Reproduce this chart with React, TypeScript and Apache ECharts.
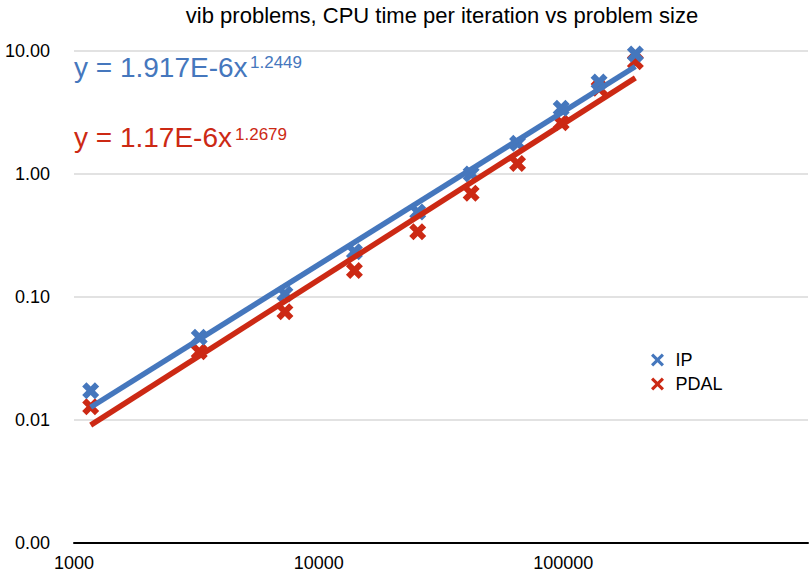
import React, { useEffect, useRef } from "react";
import * as echarts from "echarts";

// ---- data ----
const problemSizes = [1170, 3250, 7280, 14000, 25400, 42000, 65000, 98000, 140000, 197000];
const ipTimes = [0.0173, 0.047, 0.106, 0.233, 0.49, 1.0, 1.78, 3.42, 5.6, 9.46];
const pdalTimes = [0.0128, 0.0359, 0.0759, 0.164, 0.34, 0.697, 1.22, 2.61, 4.98, 8.19];
// power-law trend line end points (from the fitted equations shown)
const ipTrendX = [1170, 197000];
const ipTrendY = [0.0127, 7.48];
const pdalTrendX = [1170, 197000];
const pdalTrendY = [0.00908, 6.04];

const seriesNames = ["IP", "PDAL"];
const titleText = "vib problems, CPU time per iteration vs problem size";
const ipEquation = "y = 1.917E-6x";
const ipExponent = "1.2449";
const pdalEquation = "y = 1.17E-6x";
const pdalExponent = "1.2679";

const BLUE = "#4577BD";
const RED = "#CC2914";
const FONT = "'Liberation Sans', Arial, Helvetica, sans-serif";

const X_SYMBOL = "path://M0,1.5L1.5,0L3,1.5L4.5,0L6,1.5L4.5,3L6,4.5L4.5,6L3,4.5L1.5,6L0,4.5L1.5,3Z";
const X_LEGEND = "path://M0,1L1,0L3,2L5,0L6,1L4,3L6,5L5,6L3,4L1,6L0,5L2,3Z";

const pairs = (xs: number[], ys: number[]) => xs.map((x, i) => [x, ys[i]]);

export default function App() {
  const ref = useRef<HTMLDivElement>(null);

  useEffect(() => {
    if (!ref.current) return;
    const chart = echarts.init(ref.current, undefined, { renderer: "svg" });
    chart.setOption({
      animation: false,
      backgroundColor: "#ffffff",
      grid: { left: 74, right: 1, top: 51, bottom: 33, containLabel: false },
      legend: {
        orient: "vertical",
        left: 646,
        top: 346,
        itemWidth: 14,
        itemHeight: 13,
        itemGap: 6,
        textStyle: { fontSize: 18, color: "#000", fontFamily: FONT, padding: [0, 0, 0, 6] },
        data: [
          { name: seriesNames[0], icon: X_LEGEND, itemStyle: { color: BLUE, opacity: 1 } },
          { name: seriesNames[1], icon: X_LEGEND, itemStyle: { color: RED, opacity: 1 } },
        ],
      },
      xAxis: {
        type: "log",
        logBase: 10,
        min: 1000,
        max: 1000000,
        axisLine: { show: true, lineStyle: { color: "#000", width: 2 } },
        axisTick: { show: false },
        splitLine: { show: false },
        axisLabel: {
          fontSize: 18,
          color: "#000",
          fontFamily: FONT,
          margin: 11,
          formatter: (v: number) => (Math.round(v) >= 1000000 ? "" : String(Math.round(v))),
        },
      },
      yAxis: {
        type: "log",
        logBase: 10,
        min: 0.001,
        max: 10,
        axisLine: { show: false },
        axisTick: { show: false },
        splitLine: { show: true, lineStyle: { color: "#D9D9D9", width: 1.5 } },
        axisLabel: {
          fontSize: 18,
          color: "#000",
          fontFamily: FONT,
          margin: 24,
          formatter: (v: number) => v.toFixed(2),
        },
      },
      series: [
        {
          name: seriesNames[1],
          type: "scatter",
          symbol: X_SYMBOL,
          symbolSize: 17,
          itemStyle: { color: RED, opacity: 1 },
          data: pairs(problemSizes, pdalTimes),
          z: 2,
        },
        {
          name: seriesNames[0],
          type: "scatter",
          symbol: X_SYMBOL,
          symbolSize: 17,
          itemStyle: { color: BLUE, opacity: 1 },
          data: pairs(problemSizes, ipTimes),
          z: 3,
        },
        {
          name: "IP trend",
          type: "line",
          showSymbol: false,
          symbol: "none",
          lineStyle: { color: BLUE, width: 5.5 },
          data: pairs(ipTrendX, ipTrendY),
          z: 4,
          silent: true,
        },
        {
          name: "PDAL trend",
          type: "line",
          showSymbol: false,
          symbol: "none",
          lineStyle: { color: RED, width: 5.5 },
          data: pairs(pdalTrendX, pdalTrendY),
          z: 5,
          silent: true,
        },
      ],
      graphic: [
        {
          type: "text",
          x: 442,
          y: 15,
          style: {
            text: titleText,
            fill: "#000",
            font: `22px ${FONT}`,
            textAlign: "center",
            textVerticalAlign: "middle",
          },
        },
        {
          type: "text",
          x: 74,
          y: 67,
          style: {
            text: ipEquation,
            fill: BLUE,
            font: `28px ${FONT}`,
            textAlign: "left",
            textVerticalAlign: "middle",
          },
        },
        {
          type: "text",
          x: 250,
          y: 62.5,
          style: {
            text: ipExponent,
            fill: BLUE,
            font: `17px ${FONT}`,
            textAlign: "left",
            textVerticalAlign: "middle",
          },
        },
        {
          type: "text",
          x: 74,
          y: 137.5,
          style: {
            text: pdalEquation,
            fill: RED,
            font: `28px ${FONT}`,
            textAlign: "left",
            textVerticalAlign: "middle",
          },
        },
        {
          type: "text",
          x: 235,
          y: 134,
          style: {
            text: pdalExponent,
            fill: RED,
            font: `17px ${FONT}`,
            textAlign: "left",
            textVerticalAlign: "middle",
          },
        },
      ],
    });
    return () => chart.dispose();
  }, []);

  return (
    <div
      ref={ref}
      style={{ position: "fixed", left: 0, top: 0, width: 811, height: 576, background: "#fff" }}
    />
  );
}
